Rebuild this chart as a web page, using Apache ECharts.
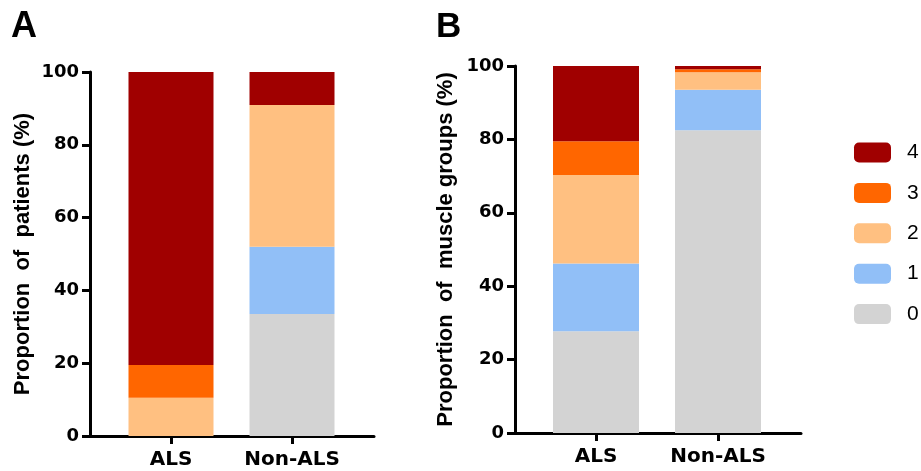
<!DOCTYPE html>
<html>
<head>
<meta charset="utf-8">
<script src="https://cdn.jsdelivr.net/npm/echarts@6/dist/echarts.min.js"></script>
<style>html,body{margin:0;padding:0;background:#fff;}#c{width:921px;height:471px;}</style>
</head>
<body>
<div id="c"></div>
<script>
const categories = ['ALS', 'Non-ALS'];
const levels = ['0', '1', '2', '3', '4'];
const levelColors = ['#D3D3D3', '#91BFF7', '#FFC081', '#FF6600', '#A00000'];
const legendOrder = ['4', '3', '2', '1', '0'];
const yTicks = [0, 20, 40, 60, 80, 100];

// Panel A: proportion of patients (%) by score, [ALS, Non-ALS]
const patientsScore0 = [0, 33.5];
const patientsScore1 = [0, 18.5];
const patientsScore2 = [10.5, 38.9];
const patientsScore3 = [9.0, 0];
const patientsScore4 = [80.5, 9.1];

// Panel B: proportion of muscle groups (%) by score, [ALS, Non-ALS]
const muscleScore0 = [27.7, 82.5];
const muscleScore1 = [18.5, 11.0];
const muscleScore2 = [24.1, 4.8];
const muscleScore3 = [9.2, 0.8];
const muscleScore4 = [20.5, 0.9];

const patientsData = [patientsScore0, patientsScore1, patientsScore2, patientsScore3, patientsScore4];
const muscleData = [muscleScore0, muscleScore1, muscleScore2, muscleScore3, muscleScore4];

const BOLD = 'DejaVu Sans';
const tickFont = { fontFamily: BOLD, fontWeight: 'bold', fontSize: 18, color: '#000' };
const line = { color: '#000', width: 3 };

function frameAxes(gridIndex, title, gap) {
  return {
    x: {
      type: 'value', gridIndex: gridIndex, min: 0, max: 1,
      axisLine: { show: true, lineStyle: line },
      axisTick: { show: false }, axisLabel: { show: false }, splitLine: { show: false }
    },
    y: {
      type: 'value', gridIndex: gridIndex, min: yTicks[0], max: yTicks[yTicks.length - 1], interval: 20,
      axisLine: { show: true, lineStyle: line },
      axisTick: { show: true, length: 8, lineStyle: line },
      axisLabel: Object.assign({ margin: 11 }, tickFont),
      splitLine: { show: false },
      name: title, nameLocation: 'middle', nameGap: gap, nameRotate: 90,
      nameTextStyle: { fontFamily: 'Liberation Sans', fontWeight: 'bold', fontSize: 22, color: '#000' }
    }
  };
}
function barAxes(gridIndex) {
  return {
    x: {
      type: 'category', gridIndex: gridIndex, data: categories,
      axisLine: { show: false },
      axisTick: { show: true, alignWithLabel: true, length: 8, lineStyle: line },
      axisLabel: { interval: 0, margin: 14, fontFamily: BOLD, fontWeight: 'bold', fontSize: 20, color: '#000' },
      splitLine: { show: false }
    },
    y: { type: 'value', gridIndex: gridIndex, min: 0, max: 100, show: false, splitLine: { show: false } }
  };
}

const fA = frameAxes(0, 'Proportion  of  patients (%)', 56);
const bA = barAxes(1);
const fB = frameAxes(2, 'Proportion  of  muscle groups (%)', 58);
const bB = barAxes(3);

const series = [];
levels.forEach(function (lv, i) {
  series.push({
    name: lv, type: 'bar', stack: 'A', xAxisIndex: 1, yAxisIndex: 1,
    barWidth: 85, data: patientsData[i], itemStyle: { color: levelColors[i] }
  });
});
levels.forEach(function (lv, i) {
  series.push({
    name: lv, type: 'bar', stack: 'B', xAxisIndex: 3, yAxisIndex: 3,
    barWidth: 86, data: muscleData[i], itemStyle: { color: levelColors[i] }
  });
});

const option = {
  animation: false,
  backgroundColor: '#fff',
  title: [
    { text: 'A', left: 11, top: 9, padding: 0, textStyle: { fontFamily: 'Liberation Sans', fontWeight: 'bold', fontSize: 36, color: '#000' } },
    { text: 'B', left: 436, top: 10, padding: 0, textStyle: { fontFamily: 'Liberation Sans', fontWeight: 'bold', fontSize: 35, color: '#000' } }
  ],
  grid: [
    { left: 90, top: 72, width: 284, height: 364 },
    { left: 110.5, top: 72, width: 242, height: 364 },
    { left: 515, top: 66, width: 286, height: 367 },
    { left: 535, top: 66, width: 244, height: 367 }
  ],
  xAxis: [fA.x, bA.x, fB.x, bB.x],
  yAxis: [fA.y, bA.y, fB.y, bB.y],
  legend: {
    data: legendOrder, orient: 'vertical', left: 854, top: 142, padding: 0,
    itemWidth: 37, itemHeight: 20, itemGap: 19.4, icon: 'roundRect',
    textStyle: { fontFamily: 'Liberation Sans', fontSize: 21, color: '#000', padding: [0, 0, 0, 11] }
  },
  series: series
};

const chart = echarts.init(document.getElementById('c'), null, { renderer: 'canvas' });
chart.setOption(option);
</script>
</body>
</html>
